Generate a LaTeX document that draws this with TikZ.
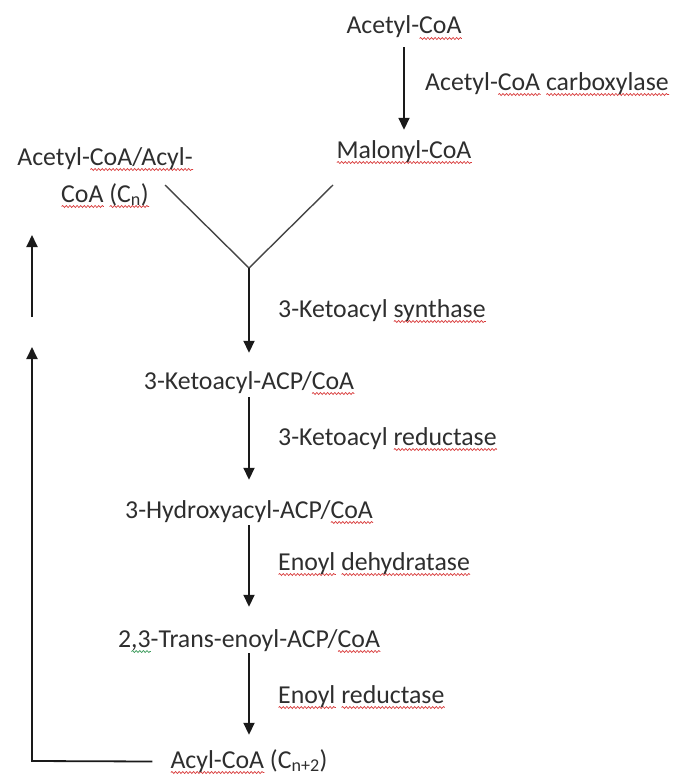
\documentclass[tikz,border=0pt]{standalone}
\usepackage{fontspec}
\setmainfont{Carlito}
\usetikzlibrary{arrows.meta,calc,decorations.pathmorphing}
\definecolor{txt}{HTML}{2E2E2E}
\definecolor{spred}{HTML}{D83A3A}
\definecolor{spgrn}{HTML}{3A9A5A}
\definecolor{lne}{HTML}{1A1A1A}
\definecolor{vln}{HTML}{454545}
\newsavebox\spbox
\newcommand\spmark[2]{\sbox\spbox{#2}\rlap{\tikz[baseline=0pt,x=1pt,y=1pt]\draw[#1,line width=0.7pt,decorate,decoration={snake,amplitude=1pt,segment length=3.6pt}] (0,-4.5) -- (\wd\spbox,-4.5);}\usebox\spbox}
\newcommand\spw[1]{\spmark{spred}{#1}}
\newcommand\spg[1]{\spmark{spgrn}{#1}}
\tikzset{
  lbl/.style={anchor=base, inner sep=0pt, text height=18pt, text depth=5pt, text=txt},
  enz/.style={anchor=base west, inner sep=0pt, text height=18pt, text depth=5pt, text=txt},
  arr/.style={draw=lne, line width=1.8pt, -{Triangle[length=12pt,width=11pt]}},
  vline/.style={draw=vln, line width=1.4pt}
}
\begin{document}
\begin{tikzpicture}[x=1pt,y=-1pt,font=\fontsize{25.8}{30}\selectfont]
\useasboundingbox (0,0) rectangle (672,776);
% nodes
\node[lbl] (acetyl) at (404,34) {Acetyl-\spw{CoA}};
\node[enz] (acc) at (425,90) {Acetyl-\spw{CoA} \spw{carboxylase}};
\node[lbl] (malonyl) at (404,158) {\spw{Malonyl-CoA}};
\node[lbl] (acyln1) at (105,165) {Acetyl-\spw{CoA/Acyl-}};
\node[lbl] (acyln2) at (105,202) {\spw{CoA} \spw{(C\textsubscript{n})}};
\node[enz] (syn) at (278,317) {3-Ketoacyl \spw{synthase}};
\node[lbl] (ketoacp) at (249,389) {3-Ketoacyl-ACP/\spw{CoA}};
\node[enz] (red1) at (278,445) {3-Ketoacyl \spw{reductase}};
\node[lbl] (hydroxy) at (249,518) {3-Hydroxyacyl-ACP/\spw{CoA}};
\node[enz] (dehyd) at (278,570) {\spw{Enoyl} \spw{dehydratase}};
\node[lbl] (trans) at (249,647) {2\spg{,3}-Trans-enoyl-ACP/\spw{CoA}};
\node[enz] (red2) at (278,703) {\spw{Enoyl} \spw{reductase}};
\node[lbl] (acylcoa) at (249,768) {\spw{Acyl-CoA} (C\textsubscript{n+2})};
% coordinates
\coordinate (vl) at (165,185);
\coordinate (vr) at (333,185);
\coordinate (apex) at (249,268);
\coordinate (lb) at (32,761);
\coordinate (lt) at (32,347);
\coordinate (ub) at (32,317);
\coordinate (ut) at (32,235);
% connectors
\draw[arr] ($(acetyl.south)+(0,8)$) -- ($(malonyl.north)+(0,-10)$);
\draw[vline] (vl) -- (apex) -- (vr);
\draw[arr] (apex) -- ($(ketoacp.north)+(0,-18)$);
\draw[arr] ($(ketoacp.south)+(0,3)$) -- ($(hydroxy.north)+(0,-20)$);
\draw[arr] ($(hydroxy.south)+(0,2)$) -- ($(trans.north)+(0,-22)$);
\draw[arr] ($(trans.south)+(0,1)$) -- ($(acylcoa.north)+(0,-15)$);
\draw[arr] ($(acylcoa.west)+(-18,0)$) -- (lb) -- (lt);
\draw[arr] (ub) -- (ut);
\end{tikzpicture}
\end{document}
